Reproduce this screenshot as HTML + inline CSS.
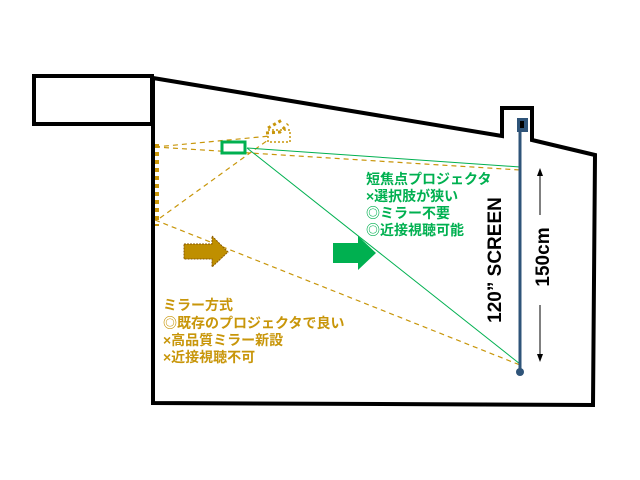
<html><body style="margin:0;background:#fff;width:640px;height:480px;overflow:hidden">
<svg width="640" height="480" xmlns="http://www.w3.org/2000/svg" style="position:absolute;left:0;top:0">
<rect x="34" y="76" width="118" height="48" fill="none" stroke="#000" stroke-width="4"/>
<path d="M153,78 L502,136 L502,108 L532,108 L532,140 L595,155 L593,405 L153,403 Z" fill="none" stroke="#000" stroke-width="4"/>
<line x1="155" y1="147" x2="520" y2="170" stroke="#c8960a" stroke-width="1.2" stroke-dasharray="5,4"/>
<line x1="155" y1="147" x2="270" y2="136" stroke="#c8960a" stroke-width="1.2" stroke-dasharray="5,4"/>
<line x1="160" y1="218" x2="268" y2="140" stroke="#c8960a" stroke-width="1.2" stroke-dasharray="5,4"/>
<line x1="155" y1="220" x2="520" y2="365" stroke="#c8960a" stroke-width="1.2" stroke-dasharray="5,4"/>
<line x1="247" y1="148" x2="520" y2="167" stroke="#00b050" stroke-width="1"/>
<line x1="247" y1="148" x2="520" y2="364" stroke="#00b050" stroke-width="1"/>
<line x1="157" y1="144" x2="157" y2="226" stroke="#c8960a" stroke-width="4" stroke-dasharray="4,4"/>
<rect x="222" y="142" width="23" height="11" fill="#fff" stroke="#00b050" stroke-width="3"/>
<path d="M266,133 L280,132 L288,124 M268,128 L282,120" stroke="#c8960a" stroke-width="3" stroke-dasharray="3,3" fill="none"/>
<rect x="268" y="130" width="22" height="12" fill="none" stroke="#c8960a" stroke-width="1.5" stroke-dasharray="2,2"/>
<path d="M184,244 L212,244 L212,236 L228,252 L212,267 L212,259 L184,259 Z" fill="#bf8f00" stroke="#8a5a00" stroke-dasharray="2,1"/>
<path d="M333,243 L358,243 L358,236 L376,253 L358,270 L358,263 L333,263 Z" fill="#00b050"/>
<line x1="520" y1="130" x2="520" y2="370" stroke="#2f5479" stroke-width="3"/>
<rect x="517" y="118" width="11" height="14" fill="#2f5479"/>
<rect x="520" y="121" width="4" height="7" fill="#000"/>
<circle cx="520" cy="372" r="4" fill="#2f5479"/>
<line x1="540" y1="172" x2="540" y2="215" stroke="#000"/><path d="M537,176 L540,168 L543,176Z"/>
<line x1="540" y1="305" x2="540" y2="358" stroke="#000"/><path d="M537,354 L540,362 L543,354Z"/>
<text transform="translate(549,257) rotate(-90)" text-anchor="middle" font-family="Liberation Sans,sans-serif" font-weight="bold" font-size="19">150cm</text>
<text transform="translate(501,260) rotate(-90)" text-anchor="middle" font-family="Liberation Sans,sans-serif" font-weight="bold" font-size="19">120” SCREEN</text>
<g font-family="Liberation Sans,Noto Sans CJK JP,sans-serif" font-weight="bold" font-size="14" fill="#00b050">
<text x="366" y="184">短焦点プロジェクタ</text><text x="366" y="201">×選択肢が狭い</text><text x="366" y="218">◎ミラー不要</text><text x="366" y="235">◎近接視聴可能</text></g>
<g font-family="Liberation Sans,Noto Sans CJK JP,sans-serif" font-weight="bold" font-size="14" fill="#c8960a">
<text x="163" y="310">ミラー方式</text><text x="163" y="328">◎既存のプロジェクタで良い</text><text x="163" y="345">×高品質ミラー新設</text><text x="163" y="362">×近接視聴不可</text></g>
</svg></body></html>
